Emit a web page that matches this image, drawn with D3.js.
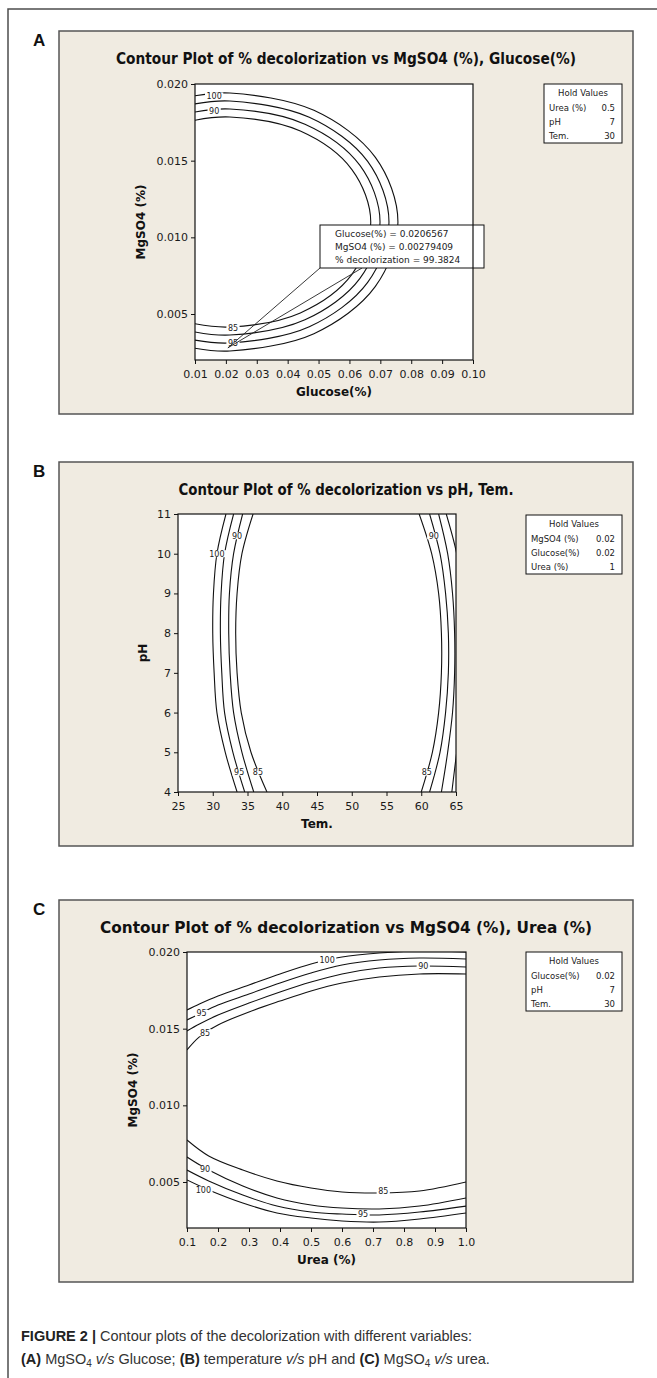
<!DOCTYPE html>
<html>
<head>
<meta charset="utf-8">
<script src="https://cdn.jsdelivr.net/npm/d3@7"></script>
<style>
  body { margin: 0; background: #fff; }
  svg { display: block; }
</style>
</head>
<body>
<svg id="fig" width="657" height="1378"></svg>
<script>
// ---------- data ----------

// panel A : MgSO4 (%) vs Glucose(%)
const glucoseTicks = [0.01, 0.02, 0.03, 0.04, 0.05, 0.06, 0.07, 0.08, 0.09, 0.10];
const mgso4Ticks = [0.005, 0.010, 0.015, 0.020];
const contourA85 = [[0.0100, 0.01764], [0.0213, 0.01785], [0.0441, 0.01693], [0.0608, 0.01442], [0.0669, 0.0110], [0.0608, 0.00758], [0.0441, 0.00507], [0.0213, 0.00415], [0.0100, 0.00436]];
const contourA90 = [[0.0100, 0.01817], [0.0213, 0.01837], [0.0456, 0.01738], [0.0634, 0.01469], [0.0699, 0.0110], [0.0634, 0.00732], [0.0456, 0.00462], [0.0213, 0.00363], [0.0100, 0.00383]];
const contourA95 = [[0.0100, 0.01870], [0.0213, 0.01889], [0.0470, 0.01783], [0.0659, 0.01495], [0.0728, 0.0110], [0.0659, 0.00706], [0.0470, 0.00417], [0.0213, 0.00311], [0.0100, 0.00330]];
const contourA100 = [[0.0100, 0.01923], [0.0213, 0.01941], [0.0485, 0.01828], [0.0684, 0.01521], [0.0757, 0.0110], [0.0684, 0.00680], [0.0485, 0.00372], [0.0213, 0.00259], [0.0100, 0.00277]];
const labelsA = [[100, 0.0162, 0.01922], [90, 0.0162, 0.01824], [85, 0.0223, 0.00409], [95, 0.0223, 0.00311]];
const holdA = [["Urea (%)", "0.5"], ["pH", "7"], ["Tem.", "30"]];
const noteA = ["Glucose(%) = 0.0206567", "MgSO4 (%) = 0.00279409", "% decolorization = 99.3824"];
const notePointA = [0.0206567, 0.00279409];

// panel B : pH vs Tem.
const temTicks = [25, 30, 35, 40, 45, 50, 55, 60, 65];
const phTicks = [4, 5, 6, 7, 8, 9, 10, 11];
const phLevels = [11, 10, 9, 8, 7, 6, 5, 4];
const temLeft100 = [31.9, 30.6, 30.1, 30.0, 30.2, 30.6, 31.8, 33.5];
const temLeft95 = [33.0, 31.7, 31.2, 31.1, 31.3, 31.7, 32.9, 34.6];
const temLeft90 = [34.3, 33.0, 32.4, 32.3, 32.5, 33.0, 34.2, 35.9];
const temLeft85 = [35.8, 34.2, 33.5, 33.3, 33.5, 34.1, 35.5, 37.8];
const temRight85 = [59.7, 61.5, 62.5, 62.9, 62.9, 62.5, 61.6, 60.0];
const temRight90 = [61.2, 62.7, 63.5, 63.9, 63.9, 63.5, 62.7, 61.2];
const temRight95 = [62.5, 63.8, 64.5, 64.8, 64.8, 64.5, 63.8, 62.9];
const temRight100 = [63.6, 65.1, 65.9, 66.3, 66.3, 65.9, 65.1, 64.4];
const labelsB = [[100, 30.6, 10.0], [90, 33.5, 10.45], [95, 33.8, 4.5], [85, 36.5, 4.5], [90, 61.8, 10.45], [85, 60.8, 4.5]];
const holdB = [["MgSO4 (%)", "0.02"], ["Glucose(%)", "0.02"], ["Urea (%)", "1"]];

// panel C : MgSO4 (%) vs Urea (%)
const ureaTicks = [0.1, 0.2, 0.3, 0.4, 0.5, 0.6, 0.7, 0.8, 0.9, 1.0];
const ureaTop = [0.10, 0.14, 0.20, 0.30, 0.40, 0.50, 0.60, 0.72, 0.85, 1.00];
const mgTop100 = [0.01622, 0.01661, 0.01713, 0.01785, 0.01857, 0.01922, 0.01967, 0.01993, 0.02007, 0.02000];
const mgTop95 = [0.01557, 0.01596, 0.01654, 0.01726, 0.01798, 0.01863, 0.01915, 0.01948, 0.01961, 0.01954];
const mgTop90 = [0.01485, 0.01530, 0.01589, 0.01667, 0.01739, 0.01804, 0.01857, 0.01896, 0.01909, 0.01902];
const mgTop85 = [0.01361, 0.01446, 0.01524, 0.01609, 0.01680, 0.01746, 0.01798, 0.01837, 0.01857, 0.01857];
const ureaBottom = [0.10, 0.17, 0.28, 0.39, 0.50, 0.60, 0.72, 0.85, 1.00];
const mgBot85 = [0.00774, 0.00670, 0.00578, 0.00507, 0.00461, 0.00435, 0.00428, 0.00441, 0.00500];
const mgBot90 = [0.00663, 0.00578, 0.00474, 0.00396, 0.00350, 0.00330, 0.00324, 0.00343, 0.00396];
const mgBot95 = [0.00578, 0.00507, 0.00415, 0.00343, 0.00304, 0.00291, 0.00285, 0.00304, 0.00343];
const mgBot100 = [0.00513, 0.00448, 0.00363, 0.00298, 0.00265, 0.00246, 0.00239, 0.00259, 0.00298];
const labelsC = [[100, 0.552, 0.01948], [90, 0.862, 0.01909], [95, 0.147, 0.01600], [85, 0.158, 0.01474],
                 [90, 0.158, 0.00583], [100, 0.153, 0.00448], [85, 0.733, 0.00440], [95, 0.668, 0.00291]];
const holdC = [["Glucose(%)", "0.02"], ["pH", "7"], ["Tem.", "30"]];

// ---------- drawing ----------
const zip = (xs, ys) => xs.map((v, i) => [v, ys[i]]);
const svg = d3.select("#fig");
const TXT = "DejaVu Sans, Verdana, sans-serif";

// figure frame (left and top only, as cropped in the original)
svg.append("path").attr("d", "M8,1378V9H657")
  .attr("fill", "none").attr("stroke", "#4d4d4d").attr("stroke-width", 1.5);

const panels = [
  {
    letter: "A", top: 31, height: 383,
    title: "Contour Plot of % decolorization vs MgSO4 (%), Glucose(%)", titleW: 460, titleSize: 15.5,
    xDomain: [0.01, 0.10], yDomain: [0.002, 0.020], box: [195, 473, 84, 360],
    xTicks: glucoseTicks, yTicks: mgso4Ticks, xFmt: ".2f", yFmt: ".3f",
    xTitle: "Glucose(%)", yTitle: "MgSO4 (%)", yTitleX: 145,
    curves: [contourA100, contourA95, contourA90, contourA85],
    labels: labelsA, hold: holdA, holdBox: [544, 84, 78, 59],
    note: noteA, notePoint: notePointA
  },
  {
    letter: "B", top: 462, height: 384,
    title: "Contour Plot of % decolorization vs pH, Tem.", titleW: 335, titleSize: 15.5,
    xDomain: [25, 65], yDomain: [4, 11], box: [178, 456, 514, 792],
    xTicks: temTicks, yTicks: phTicks, xFmt: "d", yFmt: "d",
    xTitle: "Tem.", yTitle: "pH", yTitleX: 147,
    curves: [temLeft100, temLeft95, temLeft90, temLeft85, temRight85, temRight90, temRight95, temRight100]
      .map(t => zip(t, phLevels)),
    labels: labelsB, hold: holdB, holdBox: [526, 515, 96, 59]
  },
  {
    letter: "C", top: 900, height: 382,
    title: "Contour Plot of % decolorization vs MgSO4 (%), Urea (%)", titleW: 492, titleSize: 16.5,
    xDomain: [0.1, 1.0], yDomain: [0.002, 0.020], box: [187, 466, 952, 1228],
    xTicks: ureaTicks, yTicks: mgso4Ticks, xFmt: ".1f", yFmt: ".3f",
    xTitle: "Urea (%)", yTitle: "MgSO4 (%)", yTitleX: 137,
    curves: [mgTop100, mgTop95, mgTop90, mgTop85].map(m => zip(ureaTop, m))
      .concat([mgBot85, mgBot90, mgBot95, mgBot100].map(m => zip(ureaBottom, m))),
    labels: labelsC, hold: holdC, holdBox: [526, 952, 96, 59]
  }
];

panels.forEach((p, i) => drawPanel(p, i));

function drawPanel(p, idx) {
  const g = svg.append("g");
  const [x0, x1, y0, y1] = p.box;

  g.append("rect").attr("x", 59).attr("y", p.top).attr("width", 574).attr("height", p.height)
    .attr("fill", "#f0ebe1").attr("stroke", "#555").attr("stroke-width", 1.5);

  g.append("text").attr("x", 33).attr("y", p.top + 15)
    .attr("font-family", "Liberation Sans, Arial, sans-serif").attr("font-weight", "bold")
    .attr("font-size", 17).attr("fill", "#111").text(p.letter);

  g.append("text").attr("x", 346).attr("y", p.top + 33).attr("text-anchor", "middle")
    .attr("font-family", TXT).attr("font-weight", "bold").attr("font-size", p.titleSize)
    .attr("fill", "#111").attr("textLength", p.titleW).attr("lengthAdjust", "spacingAndGlyphs")
    .text(p.title);

  const x = d3.scaleLinear().domain(p.xDomain).range([x0, x1]);
  const y = d3.scaleLinear().domain(p.yDomain).range([y1, y0]);

  g.append("rect").attr("x", x0).attr("y", y0).attr("width", x1 - x0).attr("height", y1 - y0)
    .attr("fill", "#fff");

  const clipId = "clip" + idx;
  g.append("clipPath").attr("id", clipId).append("rect")
    .attr("x", x0).attr("y", y0).attr("width", x1 - x0).attr("height", y1 - y0);

  const line = d3.line().x(d => x(d[0])).y(d => y(d[1])).curve(d3.curveCatmullRom.alpha(0.5));
  g.append("g").attr("clip-path", `url(#${clipId})`)
    .selectAll("path").data(p.curves).join("path")
    .attr("d", line).attr("fill", "none").attr("stroke", "#111").attr("stroke-width", 1.1);

  // contour labels sitting in small gaps of the lines
  const lg = g.append("g").attr("font-family", TXT).attr("font-size", 8).attr("fill", "#222");
  p.labels.forEach(l => {
    const t = lg.append("text").attr("x", x(l[1])).attr("y", y(l[2])).attr("dy", "0.36em")
      .attr("text-anchor", "middle").text(l[0]);
    const bb = t.node().getBBox();
    lg.insert("rect", () => t.node())
      .attr("x", bb.x - 1.5).attr("y", y(l[2]) - 3.5).attr("width", bb.width + 3).attr("height", 7)
      .attr("fill", "#fff");
  });

  // annotation box (panel A only)
  if (p.note) {
    const px = x(p.notePoint[0]), py = y(p.notePoint[1]);
    const bx = 320, by = 225, bw = 164, bh = 43;
    g.append("line").attr("x1", bx).attr("y1", by + bh).attr("x2", px).attr("y2", py)
      .attr("stroke", "#222").attr("stroke-width", 0.9);
    g.append("line").attr("x1", bx + 42).attr("y1", by + bh).attr("x2", px).attr("y2", py)
      .attr("stroke", "#222").attr("stroke-width", 0.9);
    g.append("rect").attr("x", bx).attr("y", by).attr("width", bw).attr("height", bh)
      .attr("fill", "#fff").attr("stroke", "#111").attr("stroke-width", 1);
    g.append("g").attr("font-family", TXT).attr("font-size", 9).attr("fill", "#222")
      .selectAll("text").data(p.note).join("text")
      .attr("x", bx + 15).attr("y", (d, k) => by + 12 + k * 13).text(d => d);
  }

  g.append("rect").attr("x", x0).attr("y", y0).attr("width", x1 - x0).attr("height", y1 - y0)
    .attr("fill", "none").attr("stroke", "#111").attr("stroke-width", 1.2);

  const xAxis = d3.axisBottom(x).tickValues(p.xTicks).tickFormat(d3.format(p.xFmt))
    .tickSize(4).tickPadding(6);
  g.append("g").attr("transform", `translate(0,${y1})`).call(xAxis)
    .call(a => a.select(".domain").remove())
    .attr("font-family", TXT).attr("font-size", 11)
    .call(a => a.selectAll("text").attr("fill", "#1a1a1a"))
    .call(a => a.selectAll("line").attr("stroke", "#111"));

  const yAxis = d3.axisLeft(y).tickValues(p.yTicks).tickFormat(d3.format(p.yFmt))
    .tickSize(4).tickPadding(3);
  g.append("g").attr("transform", `translate(${x0},0)`).call(yAxis)
    .call(a => a.select(".domain").remove())
    .attr("font-family", TXT).attr("font-size", 11)
    .call(a => a.selectAll("text").attr("fill", "#1a1a1a"))
    .call(a => a.selectAll("line").attr("stroke", "#111"));

  g.append("text").attr("x", (x0 + x1) / 2).attr("y", y1 + 36).attr("text-anchor", "middle")
    .attr("font-family", TXT).attr("font-weight", "bold").attr("font-size", 12).attr("fill", "#111")
    .text(p.xTitle);
  g.append("text").attr("transform", `translate(${p.yTitleX},${(y0 + y1) / 2}) rotate(-90)`)
    .attr("text-anchor", "middle")
    .attr("font-family", TXT).attr("font-weight", "bold").attr("font-size", 12).attr("fill", "#111")
    .text(p.yTitle);

  // hold values table
  const [hx, hy, hw, hh] = p.holdBox;
  const hg = g.append("g").attr("font-family", TXT).attr("font-size", 8.5).attr("fill", "#1a1a1a");
  hg.append("rect").attr("x", hx).attr("y", hy).attr("width", hw).attr("height", hh)
    .attr("fill", "#fff").attr("stroke", "#111").attr("stroke-width", 1);
  hg.append("text").attr("x", hx + hw / 2).attr("y", hy + 12).attr("text-anchor", "middle").text("Hold Values");
  p.hold.forEach((r, k) => {
    hg.append("text").attr("x", hx + 5).attr("y", hy + 27 + k * 14).text(r[0]);
    hg.append("text").attr("x", hx + hw - 7).attr("y", hy + 27 + k * 14).attr("text-anchor", "end").text(r[1]);
  });
}

// ---------- caption ----------
const cap = svg.append("g").attr("font-family", "Liberation Sans, Arial, sans-serif")
  .attr("font-size", 14.5).attr("fill", "#333");
const l1 = cap.append("text").attr("x", 21).attr("y", 1341);
l1.append("tspan").attr("font-weight", "bold").attr("fill", "#222").text("FIGURE 2 |");
l1.append("tspan").text(" Contour plots of the decolorization with different variables:");
const l2 = cap.append("text").attr("x", 21).attr("y", 1364);
const parts = [
  ["(A)", "b"], [" MgSO", ""], ["4", "sub"], [" ", ""], ["v/s", "i"], [" Glucose; ", ""],
  ["(B)", "b"], [" temperature ", ""], ["v/s", "i"], [" pH and ", ""],
  ["(C)", "b"], [" MgSO", ""], ["4", "sub"], [" ", ""], ["v/s", "i"], [" urea.", ""]
];
parts.forEach(([t, s], k) => {
  const ts = l2.append("tspan").text(t);
  if (s === "b") ts.attr("font-weight", "bold").attr("fill", "#222");
  if (s === "i") ts.attr("font-style", "italic");
  if (s === "sub") ts.attr("font-size", 10).attr("dy", 3);
  else if (k > 0 && parts[k - 1][1] === "sub") ts.attr("dy", -3);
});
</script>
</body>
</html>
